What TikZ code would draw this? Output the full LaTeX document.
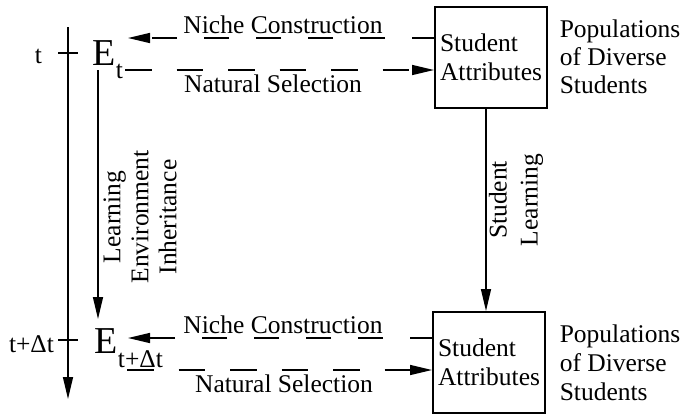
\documentclass[tikz,border=0pt]{standalone}
\usepackage{fontspec}
\setmainfont{Liberation Serif}
\usetikzlibrary{arrows.meta}
\begin{document}
\begin{tikzpicture}[x=1pt,y=-1pt,
  font=\fontsize{25.5}{29}\selectfont,
  line width=1.5pt,
  tip/.style={-{Triangle[length=22pt,width=10pt]}},
  sbox/.style={draw,line width=2pt,minimum width=112pt,minimum height=101pt,align=left,inner sep=1pt},
  plain/.style={inner sep=0pt},
  dsh/.style={dash pattern=on 25pt off 27pt,dash phase=3pt},
  dsh2/.style={dash pattern=on 26.5pt off 25pt}]
\useasboundingbox (0,0) rectangle (681,416);

% boxes
\node[sbox] (b1) at (491,57.5) {Student\\Attributes};
\node[sbox] (b2) at (489,362.5) {Student\\Attributes};

% population labels
\node[plain,anchor=north west,align=left,font=\fontsize{25.5}{28}\selectfont] (p1) at (559,19.5) {Populations\\of Diverse\\Students};
\node[plain,anchor=north west,align=left,font=\fontsize{25.5}{29}\selectfont] (p2) at (559,324.5) {Populations\\of Diverse\\Students};

% time axis
\coordinate (ta) at (68,27);
\coordinate (tb) at (68,399);
\draw[tip] (ta) -- (tb);
\coordinate (k1a) at (58,53); \coordinate (k1b) at (78,53);
\coordinate (k2a) at (58,340); \coordinate (k2b) at (78,340);
\draw (k1a) -- (k1b);
\draw (k2a) -- (k2b);
\node[plain,anchor=base] (lt) at (38.5,63) {t};
\node[plain,anchor=base] (ltd) at (31.5,352) {t+Δt};

% E nodes
\node[plain,anchor=base west] (E1) at (92,65) {{\fontsize{38}{38}\selectfont E}\raisebox{-13pt}{t}};
\node[plain,anchor=base west] (E2) at (94,353) {{\fontsize{38}{38}\selectfont E}\raisebox{-14pt}{t+Δt}};

% inheritance arrow
\coordinate (ia) at (98,70);
\coordinate (ib) at (98,319);
\draw[tip] (ia) -- (ib);
\node[plain,rotate=90,align=center,font=\fontsize{25.5}{28}\selectfont] (il) at (140,217) {Learning\\Environment\\Inheritance};

% student learning arrow
\coordinate (slx) at (486,0);
\draw[tip] (b1.south -| slx) -- (b2.north -| slx);
\node[plain,rotate=90,align=center,font=\fontsize{25.5}{31}\selectfont] (sl) at (516,200) {Student\\Learning};

% top niche construction / natural selection
\coordinate (n1a) at (434,38); \coordinate (n1b) at (128,38);
\draw[tip,dsh] (n1a) -- (n1b);
\node[plain,anchor=base] (n1t) at (283,33) {Niche Construction};
\coordinate (s1a) at (125,70); \coordinate (s1b) at (434,70);
\draw[tip,dsh2] (s1a) -- (s1b);
\node[plain,anchor=base] (s1t) at (273,92) {Natural Selection};

% bottom niche construction / natural selection
\coordinate (n2a) at (432,338); \coordinate (n2b) at (128,338);
\draw[tip,dsh] (n2a) -- (n2b);
\node[plain,anchor=base] (n2t) at (283,333) {Niche Construction};
\coordinate (s2a) at (127,370); \coordinate (s2b) at (432,370);
\draw[tip,dsh2] (s2a) -- (s2b);
\node[plain,anchor=base] (s2t) at (284,392) {Natural Selection};
\end{tikzpicture}
\end{document}
